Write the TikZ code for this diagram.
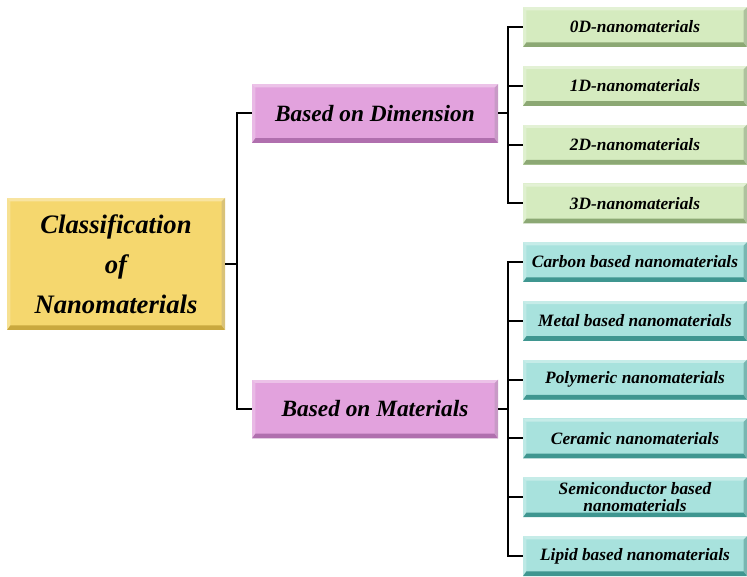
\documentclass[tikz,border=0pt]{standalone}
\usepackage{fontspec}
\setmainfont{Liberation Serif}
\usepackage{tikz}
\usetikzlibrary{positioning}

\definecolor{mainyellow}{HTML}{F5D76E}
\definecolor{mainyellowdark}{HTML}{C9A83E}
\definecolor{catpink}{HTML}{E2A2DD}
\definecolor{catpinkdark}{HTML}{B06FAE}
\definecolor{dimgreen}{HTML}{D5EBBF}
\definecolor{dimgreendark}{HTML}{8CA874}
\definecolor{matcyan}{HTML}{A8E2DD}
\definecolor{matcyandark}{HTML}{3F9690}

\tikzset{bevel/.style={path picture={
  \fill[#1] (path picture bounding box.south west) -- (path picture bounding box.south east)
     -- ([xshift=-2.5pt,yshift=3.5pt]path picture bounding box.south east)
     -- ([xshift=2.5pt,yshift=3.5pt]path picture bounding box.south west) -- cycle;
  \fill[#1!70] (path picture bounding box.south east) -- (path picture bounding box.north east)
     -- ([xshift=-2.5pt,yshift=-2.5pt]path picture bounding box.north east)
     -- ([xshift=-2.5pt,yshift=3.5pt]path picture bounding box.south east) -- cycle;
  \fill[white,opacity=0.35] (path picture bounding box.north west) -- (path picture bounding box.north east)
     -- ([xshift=-2.5pt,yshift=-2.5pt]path picture bounding box.north east)
     -- ([xshift=2.5pt,yshift=-2.5pt]path picture bounding box.north west) -- cycle;
  \fill[white,opacity=0.25] (path picture bounding box.north west) -- (path picture bounding box.south west)
     -- ([xshift=2.5pt,yshift=3.5pt]path picture bounding box.south west)
     -- ([xshift=2.5pt,yshift=-2.5pt]path picture bounding box.north west) -- cycle;
}}}
\tikzstyle{mainbox} = [rectangle, fill=mainyellow, bevel=mainyellowdark, minimum width=163.5pt, minimum height=99pt, inner sep=0pt, align=center, font=\fontsize{20}{30}\selectfont\bfseries\itshape]
\tikzstyle{catbox} = [rectangle, fill=catpink, bevel=catpinkdark, minimum width=184.5pt, minimum height=44pt, inner sep=0pt, font=\fontsize{17.5}{20}\selectfont\bfseries\itshape]
\tikzstyle{dimbox} = [rectangle, fill=dimgreen, bevel=dimgreendark, minimum width=168pt, minimum height=30pt, inner sep=0pt, font=\fontsize{13}{13}\selectfont\bfseries\itshape]
\tikzstyle{matbox} = [rectangle, fill=matcyan, bevel=matcyandark, minimum width=168pt, minimum height=30pt, inner sep=0pt, align=center, font=\fontsize{13}{12.5}\selectfont\bfseries\itshape]
\tikzstyle{link} = [draw=black, line width=1.5pt]

\begin{document}
\begin{tikzpicture}[x=0.75pt,y=-0.75pt]
\useasboundingbox (0,0) rectangle (747,577);

\node [mainbox] (main) at (116,264) {Classification\\of\\Nanomaterials};

\node [catbox] (dim) at (375,113.5) {Based on Dimension};
\node [catbox] (mat) at (375,409) {Based on Materials};

% dimension leaves
\node [dimbox] (d0) at (635,27)    {0D-nanomaterials};
\node [dimbox] (d1) at (635,85.8)  {1D-nanomaterials};
\node [dimbox] (d2) at (635,144.6) {2D-nanomaterials};
\node [dimbox] (d3) at (635,203.4) {3D-nanomaterials};

% material leaves
\node [matbox] (m1) at (635,262)   {Carbon based nanomaterials};
\node [matbox] (m2) at (635,320.8) {Metal based nanomaterials};
\node [matbox] (m3) at (635,379.6) {Polymeric nanomaterials};
\node [matbox] (m4) at (635,438.4) {Ceramic nanomaterials};
\node [matbox] (m5) at (635,497.2) {Semiconductor based\\nanomaterials};
\node [matbox] (m6) at (635,556)   {Lipid based nanomaterials};

% connectors
\coordinate (trunk) at (237,0);
\coordinate (brk) at (508,0);
\draw [link] (main.east) -- (main.east -| trunk);
\draw [link] (dim.west) -- (dim.west -| trunk) |- (mat.west);
\draw [link] (dim.east) -- (dim.east -| brk);
\draw [link] (mat.east) -- (mat.east -| brk);
\draw [link] (d0.west) -- (d0.west -| brk) |- (d3.west);
\foreach \n in {d1,d2} \draw [link] (\n.west) -- (\n.west -| brk);
\draw [link] (m1.west) -- (m1.west -| brk) |- (m6.west);
\foreach \n in {m2,m3,m4,m5} \draw [link] (\n.west) -- (\n.west -| brk);
\end{tikzpicture}
\end{document}
